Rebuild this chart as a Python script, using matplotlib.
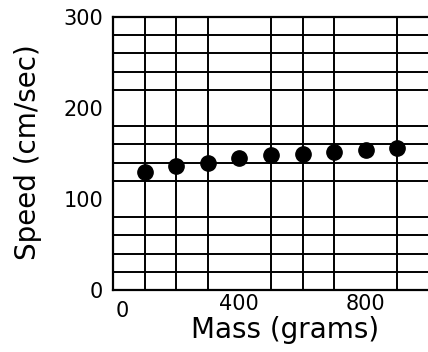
import numpy as np
import matplotlib.pyplot as plt
from matplotlib.transforms import ScaledTranslation

plt.rcParams['font.family'] = ['DejaVu Sans']

mass = [100, 200, 300, 400, 500, 600, 700, 800, 900]
speed = [130, 136, 139, 145, 148, 149, 152, 154, 156]
xticks = [0, 400, 800]
yticks = [0, 100, 200, 300]

fig = plt.figure(figsize=(4.28, 3.52), dpi=100)
ax = fig.add_axes([0.264, 0.176, 0.75, 0.776])

ax.set_xlim(0, 1016)
ax.set_ylim(0, 300)
ax.set_xticks(np.arange(0, 1001, 100), minor=True)
ax.set_yticks(np.arange(0, 301, 20), minor=True)
ax.grid(which='minor', color='black', linewidth=1.4)
ax.set_axisbelow(True)

ax.set_xticks(xticks)
ax.set_yticks(yticks)
ax.tick_params(which='both', length=0, labelsize=15)
ax.tick_params(axis='x', pad=3)
ax.tick_params(axis='y', pad=7)
for s in ax.spines.values():
    s.set_linewidth(1.6)
ax.spines['right'].set_visible(False)

# the "0" under the x axis sits lower and to the right in the original
lab0 = ax.get_xticklabels()[0]
lab0.set_transform(lab0.get_transform() + ScaledTranslation(0.09, -0.07, fig.dpi_scale_trans))

ax.plot(mass, speed, 'o', color='black', markersize=11)

ax.set_xlabel('Mass (grams)', fontsize=20)
ax.xaxis.set_label_coords(0.536, -0.095)
ax.set_ylabel('Speed (cm/sec)', fontsize=20)
ax.yaxis.set_label_coords(-0.222, 0.505)

fig.savefig('out.png', dpi=100)
